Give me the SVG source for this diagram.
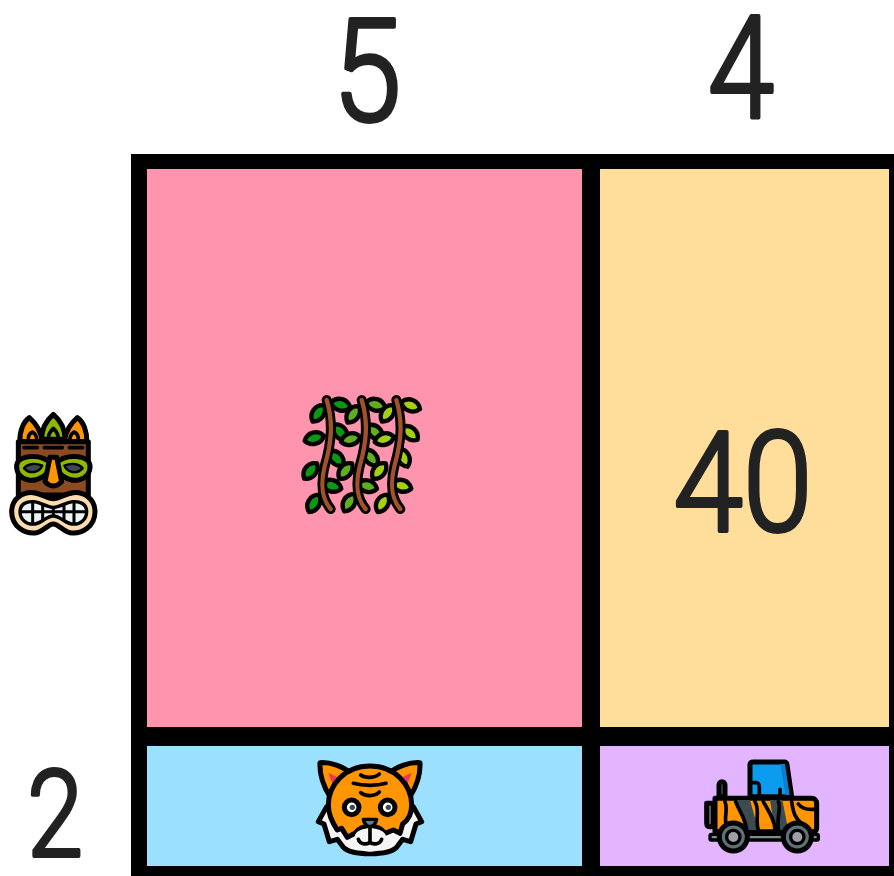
<svg xmlns="http://www.w3.org/2000/svg" width="894" height="876" viewBox="0 0 894 876">
<style>
.num{font-family:"Roboto","Liberation Sans",sans-serif;font-weight:300;fill:#222;stroke:#222;stroke-width:4px;stroke-linejoin:round;text-anchor:middle}
.big{font-size:142px}
.mid{font-size:139px}
.sm{font-size:121px}
.o{stroke:#000;stroke-width:15;stroke-linejoin:round;stroke-linecap:round}
.t{fill:none;stroke:#000;stroke-width:11;stroke-linecap:round;stroke-linejoin:round}
</style>
<defs>
<path id="leaf" d="M-30 0C-16 -24 16 -24 30 0C16 22 -16 22 -30 0Z" stroke="#000" stroke-width="13" stroke-linejoin="round"/>
</defs>
<rect width="894" height="876" fill="#fff"/>
<g id="grid">
<rect x="131" y="154" width="763" height="722" fill="#000"/>
<rect x="147" y="169" width="435" height="558" fill="#ff94ae"/>
<rect x="600" y="169" width="289" height="558" fill="#ffdd9b"/>
<rect x="147" y="746" width="435" height="120" fill="#9be0ff"/>
<rect x="600" y="746" width="289" height="120" fill="#e3b4ff"/>
</g>
<g id="labels">
<text class="num big" transform="translate(367 121) scale(.87 1)">5</text>
<text class="num big" transform="translate(741 118) scale(.84 1)">4</text>
<text class="num sm" transform="translate(55 856) scale(.83 1)">2</text>
<text class="num mid" transform="translate(743 531) scale(.9 1)">40</text>
</g>
<g id="tiki" transform="translate(0 400) scale(.3333)">
<path class="o" fill="#ff9500" d="M60 125C58 95 70 65 88 53C108 70 122 90 128 125Z"/>
<path class="o" fill="#ff9500" d="M260 125C262 95 250 65 232 53C212 70 198 90 192 125Z"/>
<path class="o" fill="#8fb800" d="M125 118C125 85 140 60 160 43C180 60 195 85 195 118Z"/>
<path class="t" d="M85 118C85 105 92 98 98 96C104 100 110 108 110 118M235 118C235 105 228 98 222 96C216 100 210 108 210 118M145 115C145 100 155 90 160 85C165 90 175 100 175 115"/>
<path class="o" fill="#8a4a22" d="M55 125H265V285H55Z"/>
<path class="t" d="M72 143H112M133 143H187M208 143H248"/>
<path class="o" fill="#8fb800" d="M50 195C55 165 120 160 152 188C155 225 110 245 85 240C62 235 48 218 50 195Z"/>
<path class="o" fill="#8fb800" d="M270 195C265 165 200 160 168 188C165 225 210 245 235 240C258 235 272 218 270 195Z"/>
<path fill="#3c4a52" stroke="#000" stroke-width="7" stroke-linejoin="round" d="M72 205C85 188 110 190 127 197C118 218 90 224 72 205Z"/>
<path fill="#3c4a52" stroke="#000" stroke-width="7" stroke-linejoin="round" d="M248 205C235 188 210 190 193 197C202 218 230 224 248 205Z"/>
<path class="o" fill="#ff9500" stroke-width="12" d="M150 172H170L185 245C170 262 150 262 135 245Z"/>
<path class="o" fill="#fbdcae" d="M35 335C35 295 70 275 100 278C125 280 140 296 160 296C180 296 195 280 220 278C250 275 285 295 285 335C285 380 245 403 210 398C190 395 175 372 160 372C145 372 130 395 110 398C75 403 35 380 35 335Z"/>
<path fill="#eef3f5" stroke="#000" stroke-width="10" stroke-linejoin="round" d="M60 335C60 312 80 303 102 305C125 308 140 322 160 322C180 322 195 308 218 305C240 303 260 312 260 335C260 358 240 376 215 372C195 369 180 348 160 348C140 348 125 369 105 372C80 376 60 358 60 335Z"/>
<path fill="none" stroke="#000" stroke-width="9" d="M98 305V372M128 310V362M160 322V348M192 310V362M222 305V372M60 335H260"/>
</g>
<g id="vines" transform="translate(290 385) scale(.3333)">
<g fill="#0a9a12">
<use href="#leaf" transform="translate(152 60) rotate(15)"/>
<use href="#leaf" transform="translate(85 85) rotate(-55)"/>
<use href="#leaf" transform="translate(150 142) rotate(50)"/>
<use href="#leaf" transform="translate(73 160) rotate(-15)"/>
<use href="#leaf" transform="translate(138 220) rotate(45)"/>
<use href="#leaf" transform="translate(62 258) rotate(-50)"/>
<use href="#leaf" transform="translate(125 303) rotate(15)"/>
<use href="#leaf" transform="translate(72 355) rotate(-60)"/>
</g>
<g fill="#5fae1e">
<use href="#leaf" transform="translate(257 60) rotate(15)"/>
<use href="#leaf" transform="translate(190 88) rotate(-55)"/>
<use href="#leaf" transform="translate(255 142) rotate(45)"/>
<use href="#leaf" transform="translate(182 163) rotate(-15)"/>
<use href="#leaf" transform="translate(242 218) rotate(50)"/>
<use href="#leaf" transform="translate(167 258) rotate(-50)"/>
<use href="#leaf" transform="translate(232 304) rotate(15)"/>
<use href="#leaf" transform="translate(178 353) rotate(-60)"/>
</g>
<g fill="#a5cf10">
<use href="#leaf" transform="translate(362 62) rotate(20)"/>
<use href="#leaf" transform="translate(293 85) rotate(-55)"/>
<use href="#leaf" transform="translate(360 145) rotate(40)"/>
<use href="#leaf" transform="translate(283 163) rotate(-15)"/>
<use href="#leaf" transform="translate(340 218) rotate(65)"/>
<use href="#leaf" transform="translate(268 258) rotate(-50)"/>
<use href="#leaf" transform="translate(335 303) rotate(15)"/>
<use href="#leaf" transform="translate(278 355) rotate(-60)"/>
</g>
<g fill="none" stroke-linecap="round">
<path stroke="#000" stroke-width="30" d="M110 45C130 110 125 170 105 240C90 300 95 340 122 372"/>
<path stroke="#000" stroke-width="30" d="M215 45C235 110 230 170 210 240C195 300 200 340 227 372"/>
<path stroke="#000" stroke-width="30" d="M319 45C339 110 334 170 314 240C299 300 304 340 331 372"/>
<path stroke="#a0522d" stroke-width="13" d="M110 45C130 110 125 170 105 240C90 300 95 340 122 372"/>
<path stroke="#a0522d" stroke-width="13" d="M215 45C235 110 230 170 210 240C195 300 200 340 227 372"/>
<path stroke="#a0522d" stroke-width="13" d="M319 45C339 110 334 170 314 240C299 300 304 340 331 372"/>
</g>
</g>
<g id="tiger" transform="translate(300 750) scale(.3333)">
<path class="o" fill="#ff9500" d="M60 38C90 36 130 48 155 72L90 140C70 108 58 75 60 38Z"/>
<path class="o" fill="#ff9500" d="M360 38C330 36 290 48 265 72L330 140C350 108 362 75 360 38Z"/>
<path fill="#f0365c" d="M85 68L125 88L100 108Z"/>
<path fill="#f0365c" d="M335 68L295 88L320 108Z"/>
<path class="o" fill="#f5f5f5" d="M80 170L55 215L72 222L88 275L112 268L130 292C155 318 265 318 290 292L308 268L332 275L348 222L365 215L340 170Z"/>
<path class="o" fill="#ff9500" d="M210 48C285 48 335 105 335 165C335 190 325 210 308 222L300 250L280 240L255 250C235 222 185 222 165 250L142 262L125 235L112 240C95 215 85 190 85 165C85 105 135 48 210 48Z"/>
<path class="t" d="M182 75C195 85 225 85 238 72M160 100C190 108 230 108 258 100M182 128C195 140 225 140 238 126"/>
<circle class="o" cx="155" cy="172" r="22" fill="#fff" stroke-width="13"/>
<circle class="o" cx="263" cy="172" r="22" fill="#fff" stroke-width="13"/>
<circle cx="157" cy="172" r="8" fill="#3c4a52"/>
<circle cx="265" cy="172" r="8" fill="#3c4a52"/>
<path fill="#f5f5f5" d="M165 255C175 228 245 228 257 255C262 285 240 305 210 305C180 305 160 285 165 255Z"/>
<path fill="#5f7f8c" stroke="#000" stroke-width="10" stroke-linejoin="round" d="M190 208H230C228 222 218 230 210 230C202 230 192 222 190 208Z"/>
<path class="t" d="M210 232V278M175 268C180 285 205 285 210 275C215 285 240 285 245 268"/>
</g>
<g id="jeep" transform="translate(695 750) scale(.3333)">
<path class="o" fill="#5f7078" d="M72 140V105C72 92 90 92 90 105V140Z"/>
<path class="o" fill="#5f7078" d="M35 160H55V230H45C38 230 35 225 35 218Z"/>
<path class="o" fill="#0b9cf0" d="M165 140V45C165 38 170 36 175 36H268C272 36 275 38 276 44L290 140Z"/>
<path fill="#0a7fd0" d="M256 42H270L284 135H272Z"/>
<path class="t" d="M172 98H182C190 98 193 104 193 112V135M255 135V118"/>
<path class="o" fill="#ff9500" d="M60 145H350C360 145 365 152 365 160V235C365 242 360 245 355 245H60Z"/>
<path fill="#3c4a52" d="M125 150H165L190 240H150ZM225 150H262L280 240H240Z"/>
<path class="t" d="M90 155C100 180 85 205 95 232M122 155C135 190 150 200 155 240M180 155C195 180 180 210 190 240M205 155C225 190 240 215 240 240M250 155C260 170 245 195 250 240M290 155C295 190 300 205 325 225M310 162C320 175 335 180 358 178"/>
<rect x="45" y="253" width="325" height="17" rx="4" fill="#7d8a90" stroke="#000" stroke-width="10"/>
<circle class="o" cx="115" cy="261" r="42" fill="#5f7078"/>
<circle cx="115" cy="261" r="25" fill="#000"/>
<circle cx="115" cy="261" r="15" fill="#9aa0a4"/>
<circle class="o" cx="307" cy="261" r="42" fill="#5f7078"/>
<circle cx="307" cy="261" r="25" fill="#000"/>
<circle cx="307" cy="261" r="15" fill="#9aa0a4"/>
</g>
</svg>
